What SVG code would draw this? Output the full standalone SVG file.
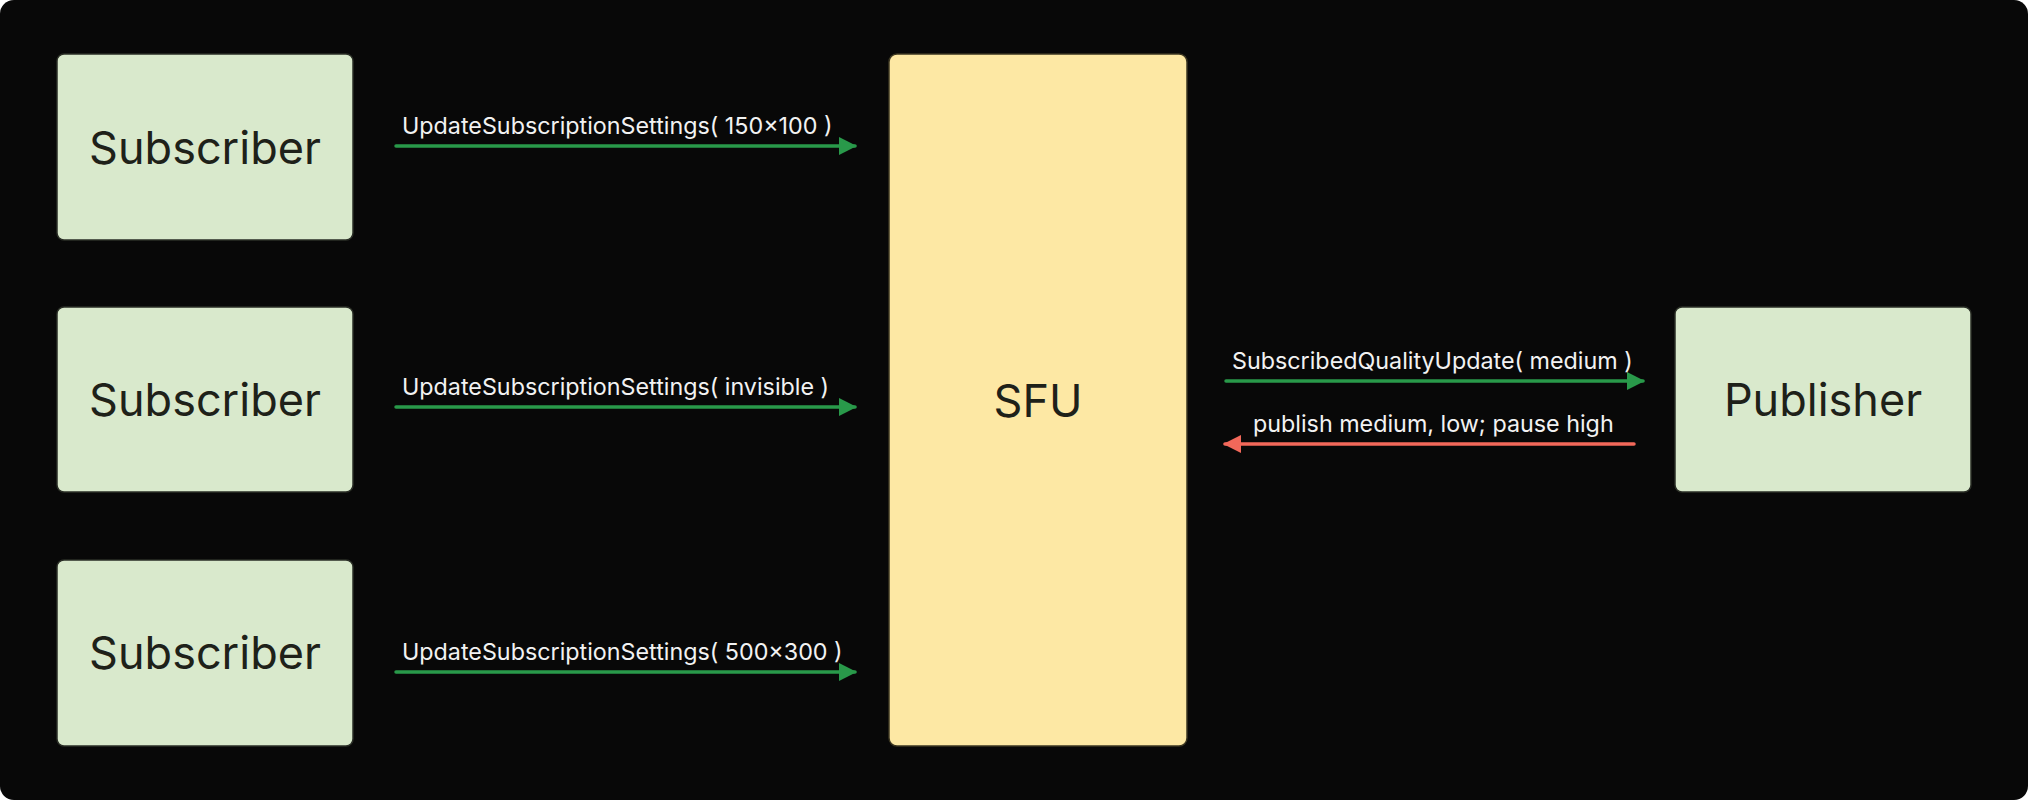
<svg xmlns="http://www.w3.org/2000/svg" width="2028" height="800" viewBox="0 0 2028 800">
<defs>
<style>
.node{fill:#d9e9cc;stroke:#2a2e26;stroke-width:1.5}
.sfu{fill:#fde8a4;stroke:#3a3520;stroke-width:1.5}
.nt{font-family:Inter,"Noto Sans",sans-serif;font-size:45px;fill:#1e2119;text-anchor:middle}
.lb{font-family:Inter,"Noto Sans",sans-serif;font-size:23.3px;fill:#f2f2f2}
.g{stroke:#29994a;stroke-width:3.5;fill:none;stroke-linecap:round}
.r{stroke:#f2685a;stroke-width:3.5;fill:none;stroke-linecap:round}
</style>
<marker id="ag" viewBox="0 0 10 10" refX="9" refY="5" markerUnits="userSpaceOnUse" markerWidth="18" markerHeight="18" orient="auto"><path d="M0,0 L10,5 L0,10 z" fill="#29994a"/></marker>
<marker id="ar" viewBox="0 0 10 10" refX="9" refY="5" markerUnits="userSpaceOnUse" markerWidth="18" markerHeight="18" orient="auto"><path d="M0,0 L10,5 L0,10 z" fill="#f2685a"/></marker>
</defs>
<rect x="0" y="0" width="2028" height="800" fill="#ffffff"/>
<rect x="0" y="0" width="2028" height="800" rx="14" fill="#080808"/>
<g id="sub1"><rect class="node" x="57" y="54" width="296" height="186" rx="7"/><text class="nt" x="205" y="164">Subscriber</text></g>
<g id="sub2"><rect class="node" x="57" y="307" width="296" height="185" rx="7"/><text class="nt" x="205" y="416">Subscriber</text></g>
<g id="sub3"><rect class="node" x="57" y="560" width="296" height="186" rx="7"/><text class="nt" x="205" y="669">Subscriber</text></g>
<g id="sfu"><rect class="sfu" x="889" y="54" width="298" height="692" rx="8"/><text class="nt" x="1038" y="417">SFU</text></g>
<g id="pub"><rect class="node" x="1675" y="307" width="296" height="185" rx="7"/><text class="nt" x="1823" y="416">Publisher</text></g>
<g id="connectors">
<line class="g" x1="396" y1="146" x2="855" y2="146" marker-end="url(#ag)"/>
<text class="lb" x="402" y="134">UpdateSubscriptionSettings( 150×100 )</text>
<line class="g" x1="396" y1="407" x2="855" y2="407" marker-end="url(#ag)"/>
<text class="lb" x="402" y="395">UpdateSubscriptionSettings( invisible )</text>
<line class="g" x1="396" y1="672" x2="855" y2="672" marker-end="url(#ag)"/>
<text class="lb" x="402" y="660">UpdateSubscriptionSettings( 500×300 )</text>
<line class="g" x1="1226" y1="381" x2="1643" y2="381" marker-end="url(#ag)"/>
<text class="lb" x="1232" y="369">SubscribedQualityUpdate( medium )</text>
<line class="r" x1="1634" y1="444" x2="1225" y2="444" marker-end="url(#ar)"/>
<text class="lb" x="1253" y="432">publish medium, low; pause high</text>
</g>
</svg>
